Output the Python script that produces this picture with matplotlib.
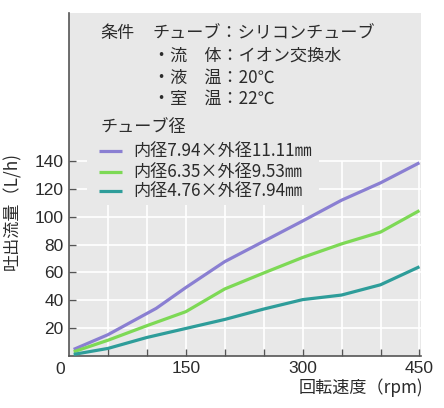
#!/usr/bin/env python3

import matplotlib

matplotlib.use("Agg")
import matplotlib.pyplot as plt
from matplotlib.patches import Rectangle

plt.rcParams["font.family"] = ["Noto Sans CJK JP", "DejaVu Sans"]

# data
rpm_a = [6, 50, 112, 150, 200, 300, 350, 400, 450]
flow_a = [4.4, 15, 34, 49, 67.7, 97, 112, 124.5, 139]
rpm_bc = [6, 50, 100, 150, 200, 250, 300, 350, 400, 450]
flow_b = [2.7, 11, 21.5, 31.6, 48, 59.5, 70.7, 80.5, 89, 104.5]
flow_c = [0.8, 5.1, 13, 19.5, 26, 33.5, 40.3, 43.6, 51, 64]
series_labels = ["内径7.94×外径11.11㎜", "内径6.35×外径9.53㎜", "内径4.76×外径7.94㎜"]
series_colors = ["#8a7fd2", "#7dd955", "#2e9d9a"]
y_ticks = [20, 40, 60, 80, 100, 120, 140]
x_ticks = [50, 100, 150, 200, 250, 300, 350, 400, 450]
x_labeled = [150, 300, 450]
conditions = [
    ("条件", "チューブ：シリコンチューブ"),
    ("", "・流\u3000体：イオン交換水"),
    ("", "・液\u3000温：20℃"),
    ("", "・室\u3000温：22℃"),
]

BG = "#e8e8e8"
TXT = "#2b2b2b"
FS = 12.3
W, H = 444, 408


def fx(px):
    return px / W


def fy(py):
    return 1 - py / H


fig = plt.figure(figsize=(W / 100, H / 100), dpi=100)
ax = fig.add_axes([fx(69), fy(355.5), 352 / W, (355.5 - 13) / H])
ax.set_facecolor(BG)
ax.set_xlim(0, 452)
ax.set_ylim(0, 247)

# grid only inside the data range
ax.hlines(y_ticks, 0, 452, colors="white", lw=1.2, zorder=1)
ax.vlines(x_ticks, 0, max(y_ticks), colors="white", lw=1.2, zorder=1)
# block behind the notes hides the grid
ax.add_patch(Rectangle((23, 108.5), 297.5, 140, facecolor=BG, edgecolor="none", zorder=1.5))

for xs, ys, c in zip([rpm_a, rpm_bc, rpm_bc], [flow_a, flow_b, flow_c], series_colors):
    ax.plot(xs, ys, color=c, lw=2.3, solid_capstyle="butt", zorder=3, clip_on=False)

for s in ["top", "right"]:
    ax.spines[s].set_visible(False)
for s in ["left", "bottom"]:
    ax.spines[s].set_color("#555555")
    ax.spines[s].set_linewidth(1.2)

ax.set_yticks(y_ticks)
ax.set_yticklabels([str(v) for v in y_ticks])
ax.set_xticks(x_ticks)
ax.set_xticklabels([str(v) if v in x_labeled else "" for v in x_ticks])
ax.tick_params(direction="in", length=5, width=1, color="#555555", labelcolor=TXT,
               labelsize=12.5, pad=4)
for lab in ax.get_xticklabels() + ax.get_yticklabels():
    lab.set_family(["Liberation Sans", "DejaVu Sans"])
ax.annotate("0", xy=(0, 0), xytext=(-6, -5), textcoords="offset points",
            ha="center", va="top", fontsize=12.5, color=TXT, family=["Liberation Sans"],
            annotation_clip=False)

fig.text(fx(12), fy(211), "吐出流量（L/h)", rotation=90, ha="center", va="center",
         fontsize=FS, color=TXT)
fig.text(fx(423), fy(388), "回転速度（rpm)", ha="right", va="center", fontsize=FS, color=TXT)

# notes
line_y = [33, 56, 78, 99]
for (head, body), yy in zip(conditions, line_y):
    if head:
        fig.text(fx(100), fy(yy), head, ha="left", va="center", fontsize=FS, color=TXT)
    fig.text(fx(153), fy(yy), body, ha="left", va="center", fontsize=FS, color=TXT)

fig.text(fx(100), fy(127), "チューブ径", ha="left", va="center", fontsize=FS, color=TXT)
for lab, c, yy in zip(series_labels, series_colors, [150.7, 171.7, 190.7]):
    fig.add_artist(plt.Line2D([fx(99), fx(122)], [fy(yy), fy(yy)], color=c, lw=2.3,
                              solid_capstyle="butt"))
    fig.text(fx(133), fy(yy), lab, ha="left", va="center", fontsize=FS, color=TXT)

fig.savefig("out.png", dpi=100)
